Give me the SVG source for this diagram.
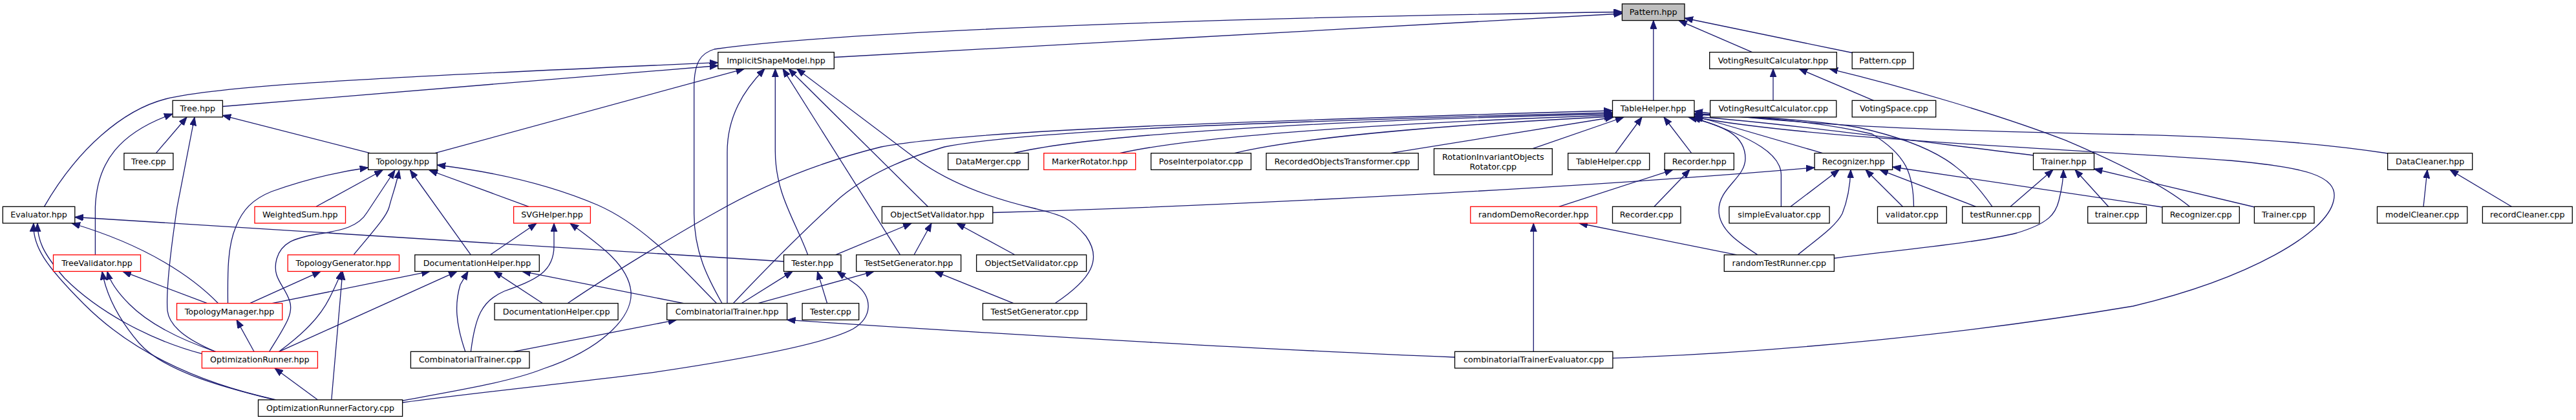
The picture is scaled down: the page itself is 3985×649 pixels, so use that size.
<svg xmlns="http://www.w3.org/2000/svg" width="3985" height="649" viewBox="0 0 3985 649">
<style>
.n rect{fill:#fff;stroke:#000;stroke-width:1.3}
.n.red rect{stroke:#ff0000}
.n.cur rect{fill:#bfbfbf}
text{font-family:"DejaVu Sans","Liberation Sans",sans-serif;font-size:12.7px;text-anchor:middle;fill:#000}
.e path{fill:none;stroke:#191970;stroke-width:1.3;marker-end:url(#ah)}
</style>
<defs>
<marker id="ah" markerUnits="userSpaceOnUse" markerWidth="15" markerHeight="12" refX="13" refY="5" orient="auto">
<path d="M0,0 L13,5 L0,10 z" fill="#191970" stroke="#191970" stroke-width="1"/>
</marker>
</defs>
<rect width="3985" height="649" fill="#fff"/>
<g id="edges" class="e">
<path d="M1290.3,88.5 L2509.4,21"/>
<path d="M1117,468.7 C1095,430 1073.7,390 1073.7,330 L1073.7,135 C1073.7,95 1085,82 1105,76 C1250,55 1700,30 2509.4,18.5"/>
<path d="M2557.8,155.3 L2557.8,31.6"/>
<path d="M2710.5,80.7 L2597,31.6"/>
<path d="M2865.2,81.5 L2606,28"/>
<path d="M344.4,164.5 L1110.8,101.5"/>
<path d="M68.4,319.3 C120,230 190,170 256,153 C330,135 500,123 1110.8,96.7"/>
<path d="M672.8,236.7 L1151.4,106.3"/>
<path d="M1125,468.7 L1125,235 C1125,180 1150,140 1183,106.3"/>
<path d="M1249.7,393.8 C1230,340 1199.3,300 1199.3,233 L1199.3,106.3"/>
<path d="M1392.6,393.8 L1211,106.3"/>
<path d="M1435.4,319.3 L1220,106.3"/>
<path d="M1632,468.7 C1690,430 1705,400 1680,365 C1655,335 1640,332 1600,322 C1540,308 1470,285 1414,243 L1232.6,106.3"/>
<path d="M241.4,236.7 L289,181"/>
<path d="M147.4,393.8 L147.4,320 C150,250 185,205 267,176"/>
<path d="M333.3,543.3 C290,525 262,505 259,480 C256,440 268,360 274,320 L301,181"/>
<path d="M572.6,236.7 L344.4,178.3"/>
<path d="M352.5,468.7 C352,420 352,380 365,350 C375,325 390,308 420,296 C470,278 520,266 569.6,259"/>
<path d="M489,319.3 L592,263"/>
<path d="M416.6,543.3 C440,505 455,485 448,465 C440,440 420,430 428,400 C435,375 455,368 490,362 C530,356 555,350 568,328 L611,263"/>
<path d="M547,393.8 C575,360 598,335 602,320 C607,300 612,290 617.5,263"/>
<path d="M728.4,393.8 L634.5,263"/>
<path d="M818,319.3 L664,263"/>
<path d="M1108.7,468.7 C1060,420 1000,350 925,317 C850,285 760,265 676.2,255"/>
<path d="M427.3,617.8 C300,590 200,540 130,470 C70,410 50,380 52,345"/>
<path d="M312.4,546.7 C230,525 150,480 100,430 C65,390 58,370 58,345"/>
<path d="M337.6,468.7 C300,430 230,380 111,345"/>
<path d="M1212.5,404 L115.8,335.5"/>
<path d="M425,617.8 C330,595 250,570 215,530 C185,495 165,460 158,419.4"/>
<path d="M333.3,543.3 C280,525 230,500 200,470 C180,450 170,435 166,419.4"/>
<path d="M320.5,468.7 L190,419.4"/>
<path d="M386.7,468.7 L496,419.4"/>
<path d="M431.6,543.3 C470,515 495,490 510,460 C520,440 525,430 528,419.4"/>
<path d="M512.8,617.8 L530,419.4"/>
<path d="M421,468.7 L665,419.4"/>
<path d="M431.6,543.3 L707,419.4"/>
<path d="M719.8,543.3 C705,500 703,470 712,440 L724,419.4"/>
<path d="M839.5,468.7 L764,419.4"/>
<path d="M1057.4,468.7 L808,419.4"/>
<path d="M758.3,393.8 L830,345"/>
<path d="M728.4,543.3 C735,490 745,465 780,450 C830,432 857,420 857,380 L857,345"/>
<path d="M622.6,619 C700,605 790,590 840,570 C930,540 980,490 976,450 C972,410 930,380 882,345"/>
<path d="M622.6,622 C750,605 900,590 1001.8,576.7 C1150,555 1280,530 1320,508 C1350,490 1350,460 1325,440 L1295,419.4"/>
<path d="M794.6,543.3 L1046.7,494.3"/>
<path d="M2250.5,552 C2000,542 1600,520 1217.6,494.3"/>
<path d="M1147,468.7 L1226,419.4"/>
<path d="M1279.6,468.7 L1264.5,419.4"/>
<path d="M1292.5,393.8 L1410,345"/>
<path d="M1172.8,468.7 L1352,419.4"/>
<path d="M1567.8,468.7 L1446,419.4"/>
<path d="M1414,393.8 L1441,345"/>
<path d="M1570,393.8 L1480,345"/>
<path d="M1535.8,328.5 C1900,318 2450,290 2807,259"/>
<path d="M878,468.7 C950,420 1050,360 1104,330 C1200,275 1290,245 1363,227 C1500,200 2000,185 2494.5,171"/>
<path d="M1134.3,468.7 C1190,410 1250,350 1300,305 C1330,280 1380,250 1461,227 C1600,200 2000,187 2494.5,174"/>
<path d="M1567.8,236.7 C1700,205 2100,185 2494.5,176"/>
<path d="M1732.3,236.7 C1850,210 2150,190 2494.5,178"/>
<path d="M1909.7,236.7 C2000,215 2200,195 2494.5,180"/>
<path d="M2151,236.7 L2496,181"/>
<path d="M2371,229.7 L2512,181"/>
<path d="M2499,236.7 L2540,181"/>
<path d="M2616.7,236.7 L2574,181"/>
<path d="M2719,393.8 C2690,375 2659,355 2659,325 C2659,290 2700,275 2700,245 C2700,210 2670,195 2612,181"/>
<path d="M2755.4,319.3 L2755.4,270 C2755,240 2720,215 2618,181"/>
<path d="M2819.5,236.7 L2621,179"/>
<path d="M2960.5,319.3 C2960,270 2950,240 2896,207 C2800,185 2700,180 2621,177"/>
<path d="M3082,319.3 C3040,260 3000,225 2875,197 C2800,185 2700,179 2621,175.5"/>
<path d="M3145.5,240 C2900,210 2750,190 2621,180"/>
<path d="M3693.6,237 C3550,215 3400,210 3300,208 C3000,202 2800,195 2621,172"/>
<path d="M2494.9,553.3 C2750,545 3050,515 3300,473 C3480,430 3600,360 3610,310 C3620,270 3560,258 3450,248 C3200,230 2800,215 2621,181"/>
<path d="M2743,155.3 L2743,106.3"/>
<path d="M2898.5,155.3 L2783,106.3"/>
<path d="M3387.4,319.3 C3340,280 3250,240 3195,216.7 C3100,180 2950,135 2830,106.3"/>
<path d="M2770,319.3 L2845,262.3"/>
<path d="M2781,393.8 C2810,370 2840,350 2850,330 C2858,310 2862,290 2863,262.3"/>
<path d="M2943.4,319.3 L2886,262.3"/>
<path d="M3056.6,319.3 L2908,262.3"/>
<path d="M3345,320 L2927.6,258"/>
<path d="M3110,319.3 L3176,262.3"/>
<path d="M2837.4,399 C2950,385 3060,375 3120,360 C3170,345 3180,330 3185,310 C3190,290 3192,275 3192,262.3"/>
<path d="M3261.7,319.3 L3210,262.3"/>
<path d="M3487.9,320 L3239.5,261"/>
<path d="M2411.6,319.3 L2588,262.3"/>
<path d="M2559,319.3 L2614,262.3"/>
<path d="M2372.3,543.3 L2372.3,345"/>
<path d="M2687,393.8 L2443,345"/>
<path d="M3749,319.3 L3755,262.3"/>
<path d="M3885.4,319.3 L3790,262.3"/>
<path d="M491.4,617.8 L425,568.9"/>
<path d="M393,543.3 L366,494.3"/>
</g>
<g id="n_Pattern_hpp" class="n cur"><rect x="2509.4" y="6" width="96.6" height="25.6"/><text x="2557.7" y="23">Pattern.hpp</text></g>
<g id="n_ImplicitShapeModel_hpp" class="n"><rect x="1110.8" y="80.7" width="179.5" height="25.6"/><text x="1200.55" y="97.7">ImplicitShapeModel.hpp</text></g>
<g id="n_VotingResultCalculator_hpp" class="n"><rect x="2644.7" y="80.7" width="196.6" height="25.6"/><text x="2743" y="97.7">VotingResultCalculator.hpp</text></g>
<g id="n_Pattern_cpp" class="n"><rect x="2865.2" y="80.7" width="94.8" height="25.6"/><text x="2912.6" y="97.7">Pattern.cpp</text></g>
<g id="n_Tree_hpp" class="n"><rect x="267.1" y="155.3" width="77.3" height="25.6"/><text x="305.75" y="172.3">Tree.hpp</text></g>
<g id="n_TableHelper_hpp" class="n"><rect x="2494.5" y="155.3" width="126.5" height="25.6"/><text x="2557.75" y="172.3">TableHelper.hpp</text></g>
<g id="n_VotingResultCalculator_cpp" class="n"><rect x="2645.6" y="155.3" width="195.2" height="25.6"/><text x="2743.2" y="172.3">VotingResultCalculator.cpp</text></g>
<g id="n_VotingSpace_cpp" class="n"><rect x="2865.2" y="155.3" width="129.5" height="25.6"/><text x="2929.95" y="172.3">VotingSpace.cpp</text></g>
<g id="n_Tree_cpp" class="n"><rect x="191.9" y="236.7" width="76" height="25.6"/><text x="229.9" y="253.7">Tree.cpp</text></g>
<g id="n_Topology_hpp" class="n"><rect x="569.6" y="236.7" width="106.6" height="25.6"/><text x="622.9" y="253.7">Topology.hpp</text></g>
<g id="n_DataMerger_cpp" class="n"><rect x="1466.6" y="236.7" width="124.3" height="25.6"/><text x="1528.75" y="253.7">DataMerger.cpp</text></g>
<g id="n_MarkerRotator_hpp" class="n red"><rect x="1614.8" y="236.7" width="141.9" height="25.6"/><text x="1685.75" y="253.7">MarkerRotator.hpp</text></g>
<g id="n_PoseInterpolator_cpp" class="n"><rect x="1780.6" y="236.7" width="154.7" height="25.6"/><text x="1857.95" y="253.7">PoseInterpolator.cpp</text></g>
<g id="n_RecordedObjectsTransformer_cpp" class="n"><rect x="1958.8" y="236.7" width="235.3" height="25.6"/><text x="2076.45" y="253.7">RecordedObjectsTransformer.cpp</text></g>
<g id="n_RotationInvariantObjectsRotator_cpp" class="n"><rect x="2218.4" y="229.7" width="182.9" height="40.3"/><text x="2309.85" y="246.5">RotationInvariantObjects</text><text x="2309.85" y="261.5">Rotator.cpp</text></g>
<g id="n_TableHelper_cpp" class="n"><rect x="2425.7" y="236.7" width="126" height="25.6"/><text x="2488.7" y="253.7">TableHelper.cpp</text></g>
<g id="n_Recorder_hpp" class="n"><rect x="2575.2" y="236.7" width="107.1" height="25.6"/><text x="2628.75" y="253.7">Recorder.hpp</text></g>
<g id="n_Recognizer_hpp" class="n"><rect x="2807.1" y="236.7" width="120.5" height="25.6"/><text x="2867.35" y="253.7">Recognizer.hpp</text></g>
<g id="n_Trainer_hpp" class="n"><rect x="3145.5" y="236.7" width="94" height="25.6"/><text x="3192.5" y="253.7">Trainer.hpp</text></g>
<g id="n_DataCleaner_hpp" class="n"><rect x="3693.6" y="236.7" width="131.1" height="25.6"/><text x="3759.15" y="253.7">DataCleaner.hpp</text></g>
<g id="n_Evaluator_hpp" class="n"><rect x="4.3" y="319.3" width="111.5" height="25.6"/><text x="60.05" y="336.3">Evaluator.hpp</text></g>
<g id="n_WeightedSum_hpp" class="n red"><rect x="394" y="319.3" width="140.5" height="25.6"/><text x="464.25" y="336.3">WeightedSum.hpp</text></g>
<g id="n_SVGHelper_hpp" class="n red"><rect x="794.6" y="319.3" width="118.8" height="25.6"/><text x="854" y="336.3">SVGHelper.hpp</text></g>
<g id="n_ObjectSetValidator_hpp" class="n"><rect x="1364.4" y="319.3" width="171.4" height="25.6"/><text x="1450.1" y="336.3">ObjectSetValidator.hpp</text></g>
<g id="n_randomDemoRecorder_hpp" class="n red"><rect x="2274.8" y="319.3" width="195.3" height="25.6"/><text x="2372.45" y="336.3">randomDemoRecorder.hpp</text></g>
<g id="n_Recorder_cpp" class="n"><rect x="2494.5" y="319.3" width="105.5" height="25.6"/><text x="2547.25" y="336.3">Recorder.cpp</text></g>
<g id="n_simpleEvaluator_cpp" class="n"><rect x="2675" y="319.3" width="155.1" height="25.6"/><text x="2752.55" y="336.3">simpleEvaluator.cpp</text></g>
<g id="n_validator_cpp" class="n"><rect x="2904.5" y="319.3" width="106.8" height="25.6"/><text x="2957.9" y="336.3">validator.cpp</text></g>
<g id="n_testRunner_cpp" class="n"><rect x="3035.7" y="319.3" width="119.2" height="25.6"/><text x="3095.3" y="336.3">testRunner.cpp</text></g>
<g id="n_trainer_cpp" class="n"><rect x="3229.7" y="319.3" width="90.8" height="25.6"/><text x="3275.1" y="336.3">trainer.cpp</text></g>
<g id="n_Recognizer_cpp" class="n"><rect x="3345" y="319.3" width="119.3" height="25.6"/><text x="3404.65" y="336.3">Recognizer.cpp</text></g>
<g id="n_Trainer_cpp" class="n"><rect x="3487.4" y="319.3" width="92.6" height="25.6"/><text x="3533.7" y="336.3">Trainer.cpp</text></g>
<g id="n_modelCleaner_cpp" class="n"><rect x="3677.5" y="319.3" width="139.3" height="25.6"/><text x="3747.15" y="336.3">modelCleaner.cpp</text></g>
<g id="n_recordCleaner_cpp" class="n"><rect x="3840.4" y="319.3" width="138.9" height="25.6"/><text x="3909.85" y="336.3">recordCleaner.cpp</text></g>
<g id="n_TreeValidator_hpp" class="n red"><rect x="82.5" y="393.8" width="135" height="25.6"/><text x="150" y="410.8">TreeValidator.hpp</text></g>
<g id="n_TopologyGenerator_hpp" class="n red"><rect x="445.2" y="393.8" width="172.3" height="25.6"/><text x="531.35" y="410.8">TopologyGenerator.hpp</text></g>
<g id="n_DocumentationHelper_hpp" class="n"><rect x="641.8" y="393.8" width="192.5" height="25.6"/><text x="738.05" y="410.8">DocumentationHelper.hpp</text></g>
<g id="n_Tester_hpp" class="n"><rect x="1212.5" y="393.8" width="88.5" height="25.6"/><text x="1256.75" y="410.8">Tester.hpp</text></g>
<g id="n_TestSetGenerator_hpp" class="n"><rect x="1324.7" y="393.8" width="161.9" height="25.6"/><text x="1405.65" y="410.8">TestSetGenerator.hpp</text></g>
<g id="n_ObjectSetValidator_cpp" class="n"><rect x="1510.6" y="393.8" width="170" height="25.6"/><text x="1595.6" y="410.8">ObjectSetValidator.cpp</text></g>
<g id="n_randomTestRunner_cpp" class="n"><rect x="2667.3" y="393.8" width="170.1" height="25.6"/><text x="2752.35" y="410.8">randomTestRunner.cpp</text></g>
<g id="n_TopologyManager_hpp" class="n red"><rect x="273.5" y="468.7" width="163.2" height="25.6"/><text x="355.1" y="485.7">TopologyManager.hpp</text></g>
<g id="n_DocumentationHelper_cpp" class="n"><rect x="765.1" y="468.7" width="191" height="25.6"/><text x="860.6" y="485.7">DocumentationHelper.cpp</text></g>
<g id="n_CombinatorialTrainer_hpp" class="n"><rect x="1031.7" y="468.7" width="185.9" height="25.6"/><text x="1124.65" y="485.7">CombinatorialTrainer.hpp</text></g>
<g id="n_Tester_cpp" class="n"><rect x="1241.1" y="468.7" width="87.6" height="25.6"/><text x="1284.9" y="485.7">Tester.cpp</text></g>
<g id="n_TestSetGenerator_cpp" class="n"><rect x="1520.4" y="468.7" width="160.6" height="25.6"/><text x="1600.7" y="485.7">TestSetGenerator.cpp</text></g>
<g id="n_OptimizationRunner_hpp" class="n red"><rect x="312.4" y="543.3" width="179" height="25.6"/><text x="401.9" y="560.3">OptimizationRunner.hpp</text></g>
<g id="n_CombinatorialTrainer_cpp" class="n"><rect x="635.4" y="543.3" width="183.6" height="25.6"/><text x="727.2" y="560.3">CombinatorialTrainer.cpp</text></g>
<g id="n_combinatorialTrainerEvaluator_cpp" class="n"><rect x="2250.5" y="543.3" width="244.4" height="25.6"/><text x="2372.7" y="560.3">combinatorialTrainerEvaluator.cpp</text></g>
<g id="n_OptimizationRunnerFactory_cpp" class="n"><rect x="399.5" y="617.8" width="223.1" height="25.6"/><text x="511.05" y="634.8">OptimizationRunnerFactory.cpp</text></g>
</svg>
